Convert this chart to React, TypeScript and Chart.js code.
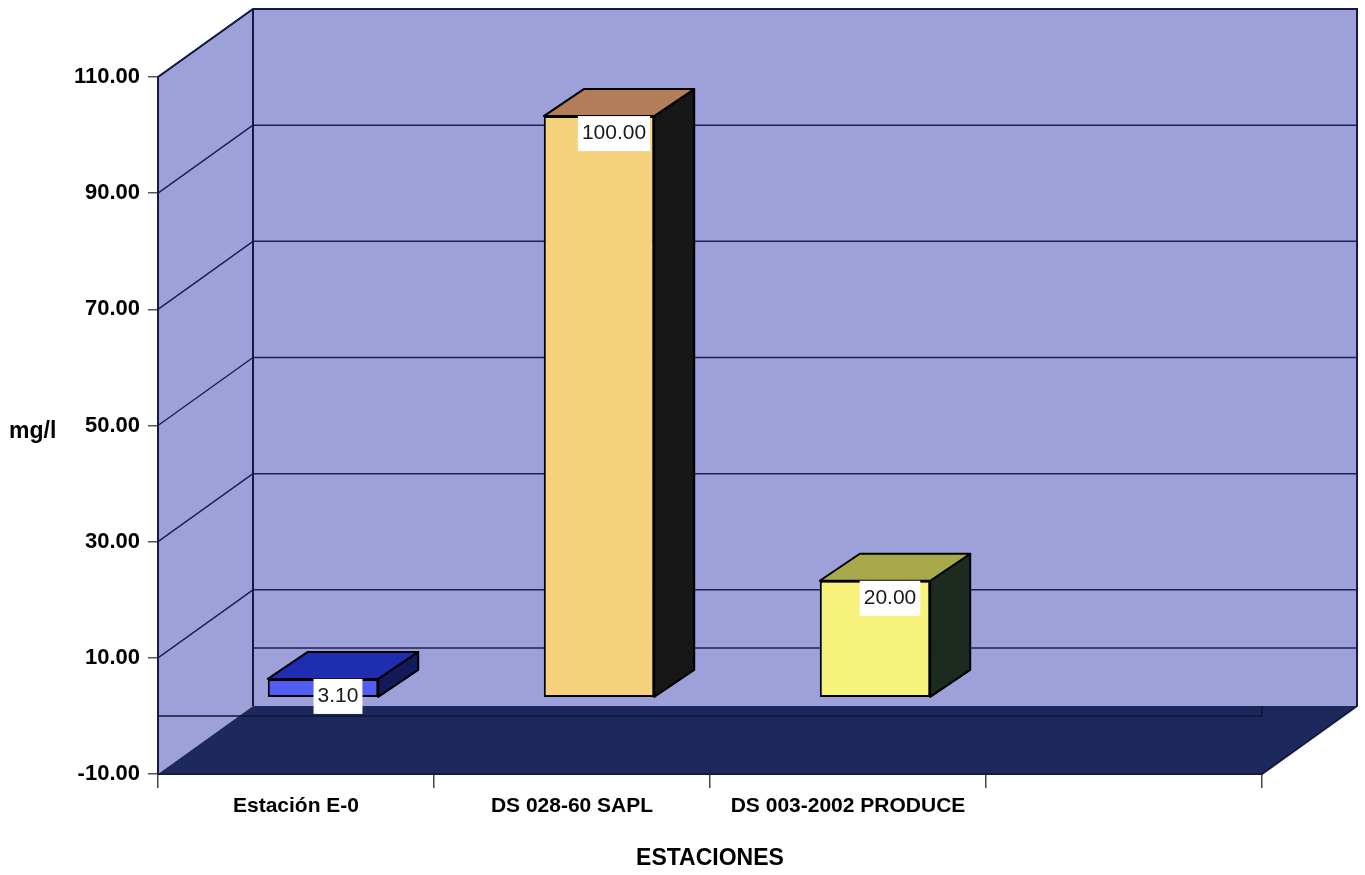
import React, { useEffect, useRef } from "react";
import { Chart, registerables } from "chart.js";

Chart.register(...registerables);

const CATEGORIES = ["Estación E-0", "DS 028-60 SAPL", "DS 003-2002 PRODUCE", ""];
const VALUES: (number | null)[] = [3.1, 100, 20, null];
const Y_TICKS = [-10, 10, 30, 50, 70, 90, 110];
const FRONT_COLORS = ["#4f5ef0", "#f7d27e", "#f6f27c", "#000000"];
const TOP_COLORS = ["#1f2db0", "#b27d58", "#a8a94a", "#000000"];
const SIDE_COLORS = ["#121a5a", "#171717", "#1c2a20", "#000000"];
const Y_TITLE = "mg/l";
const X_TITLE = "ESTACIONES";

const FONT = "'Liberation Sans', Arial, Helvetica, sans-serif";
const WALL = "#9ea0da";
const FLOOR = "#1d295c";
const GRID = "#1c2150";
const EDGE = "#141a40";

// 3D projection offsets (pixels)
const DEPTH_DX = 95;
const DEPTH_DY = -68;
const BAR_OFF_DX = 27;
const BAR_OFF_DY = -19;
const BAR_DX = 40;
const BAR_DY = -27;

const walls3d = {
  id: "walls3d",
  beforeDatasetsDraw(chart: any) {
    const { ctx, chartArea: a, scales } = chart;
    const ys = scales.y;
    const L = a.left, R = a.right, T = a.top, B = a.bottom;
    ctx.save();
    // side wall
    ctx.fillStyle = WALL;
    ctx.beginPath();
    ctx.moveTo(L, T);
    ctx.lineTo(L + DEPTH_DX, T + DEPTH_DY);
    ctx.lineTo(L + DEPTH_DX, B + DEPTH_DY);
    ctx.lineTo(L, B);
    ctx.closePath();
    ctx.fill();
    // back wall
    ctx.fillRect(L + DEPTH_DX, T + DEPTH_DY, R - L, B - T);

    // gridlines
    ctx.strokeStyle = GRID;
    ctx.lineWidth = 1.5;
    ctx.beginPath();
    Y_TICKS.forEach((v) => {
      if (v === Y_TICKS[0]) return;
      const py = ys.getPixelForValue(v);
      ctx.moveTo(L + DEPTH_DX, py + DEPTH_DY);
      ctx.lineTo(R + DEPTH_DX, py + DEPTH_DY);
      ctx.moveTo(L, py);
      ctx.lineTo(L + DEPTH_DX, py + DEPTH_DY);
    });
    const p0 = ys.getPixelForValue(0);
    ctx.moveTo(L + DEPTH_DX, p0 + DEPTH_DY);
    ctx.lineTo(R + DEPTH_DX, p0 + DEPTH_DY);
    ctx.stroke();

    // floor
    ctx.fillStyle = FLOOR;
    ctx.beginPath();
    ctx.moveTo(L, B);
    ctx.lineTo(L + DEPTH_DX, B + DEPTH_DY);
    ctx.lineTo(R + DEPTH_DX, B + DEPTH_DY);
    ctx.lineTo(R, B);
    ctx.closePath();
    ctx.fill();

    // zero plane front edge
    ctx.strokeStyle = "#10163a";
    ctx.lineWidth = 1.5;
    ctx.beginPath();
    ctx.moveTo(L, p0);
    ctx.lineTo(R, p0);
    ctx.lineTo(R, B + DEPTH_DY);
    ctx.stroke();

    // outlines
    ctx.strokeStyle = EDGE;
    ctx.lineWidth = 2;
    ctx.beginPath();
    ctx.moveTo(L, B);
    ctx.lineTo(L, T);
    ctx.lineTo(L + DEPTH_DX, T + DEPTH_DY);
    ctx.lineTo(R + DEPTH_DX, T + DEPTH_DY);
    ctx.lineTo(R + DEPTH_DX, B + DEPTH_DY);
    ctx.lineTo(R, B);
    ctx.lineTo(L, B);
    ctx.moveTo(L + DEPTH_DX, T + DEPTH_DY);
    ctx.lineTo(L + DEPTH_DX, B + DEPTH_DY);
    ctx.stroke();

    // bar top and side faces
    const meta = chart.getDatasetMeta(0);
    meta.data.forEach((el: any, i: number) => {
      if (VALUES[i] == null) return;
      const p = el.getProps(["x", "y", "base", "width"], true);
      const xl = p.x - p.width / 2 + BAR_OFF_DX;
      const xr = p.x + p.width / 2 + BAR_OFF_DX;
      const yt = Math.min(p.y, p.base) + BAR_OFF_DY;
      const yb = Math.max(p.y, p.base) + BAR_OFF_DY;
      ctx.lineWidth = 2;
      ctx.strokeStyle = "#000";
      ctx.lineJoin = "round";
      // side
      ctx.fillStyle = SIDE_COLORS[i];
      ctx.beginPath();
      ctx.moveTo(xr, yt);
      ctx.lineTo(xr + BAR_DX, yt + BAR_DY);
      ctx.lineTo(xr + BAR_DX, yb + BAR_DY);
      ctx.lineTo(xr, yb);
      ctx.closePath();
      ctx.fill();
      ctx.stroke();
      // top
      ctx.fillStyle = TOP_COLORS[i];
      ctx.beginPath();
      ctx.moveTo(xl, yt);
      ctx.lineTo(xl + BAR_DX, yt + BAR_DY);
      ctx.lineTo(xr + BAR_DX, yt + BAR_DY);
      ctx.lineTo(xr, yt);
      ctx.closePath();
      ctx.fill();
      ctx.stroke();
    });
    ctx.restore();

    // shift native front faces onto the bar plane
    ctx.save();
    ctx.translate(BAR_OFF_DX, BAR_OFF_DY);
  },
  afterDatasetsDraw(chart: any) {
    const { ctx } = chart;
    ctx.restore();

    // value labels
    const meta = chart.getDatasetMeta(0);
    ctx.save();
    ctx.font = `21px ${FONT}`;
    meta.data.forEach((el: any, i: number) => {
      const v = VALUES[i];
      if (v == null) return;
      const p = el.getProps(["x", "y", "base", "width"], true);
      const txt = v.toFixed(2);
      const w = ctx.measureText(txt).width + 8;
      const h = 35;
      const cx = p.x + BAR_OFF_DX + 15;
      const top = Math.min(p.y, p.base) + BAR_OFF_DY;
      ctx.fillStyle = "#ffffff";
      ctx.fillRect(cx - w / 2, top, w, h);
      ctx.fillStyle = "#1a1a1a";
      ctx.textAlign = "center";
      ctx.textBaseline = "middle";
      ctx.fillText(txt, cx, top + h / 2);
    });

    // y axis title (horizontal)
    ctx.font = `bold 23px ${FONT}`;
    ctx.fillStyle = "#000";
    ctx.textAlign = "left";
    ctx.textBaseline = "middle";
    ctx.fillText(Y_TITLE, 9, 432);
    ctx.restore();
  },
};

export default function App() {
  const ref = useRef<HTMLCanvasElement | null>(null);

  useEffect(() => {
    document.body.style.margin = "0";
    document.body.style.background = "#ffffff";
    if (!ref.current) return;
    const chart = new Chart(ref.current, {
      type: "bar",
      data: {
        labels: CATEGORIES,
        datasets: [
          {
            data: VALUES as any,
            backgroundColor: FRONT_COLORS,
            borderColor: "#000000",
            borderWidth: 2,
            borderSkipped: false,
            barPercentage: 0.4,
            categoryPercentage: 1,
          },
        ],
      },
      options: {
        animation: false,
        responsive: true,
        maintainAspectRatio: false,
        layout: { padding: { left: 0, top: 77, right: 103, bottom: 0 } },
        plugins: {
          legend: { display: false },
          tooltip: { enabled: false },
        },
        scales: {
          x: {
            offset: true,
            grid: {
              offset: true,
              drawOnChartArea: false,
              drawTicks: true,
              tickLength: 14,
              color: "#444",
              lineWidth: 1.5,
            },
            border: { display: false },
            ticks: {
              color: "#000",
              font: { family: FONT, size: 21, weight: "bold" },
              padding: 6,
              maxRotation: 0,
              autoSkip: false,
            },
            title: {
              display: true,
              text: X_TITLE,
              color: "#000",
              font: { family: FONT, size: 23, weight: "bold" },
              padding: { top: 0, bottom: 3 },
            },
            afterFit: (s: any) => {
              s.height = 101;
            },
          },
          y: {
            min: -10,
            max: 110,
            grid: {
              drawOnChartArea: false,
              drawTicks: true,
              tickLength: 10,
              color: "#555",
              lineWidth: 1.5,
            },
            border: { display: false },
            ticks: {
              color: "#000",
              font: { family: FONT, size: 22, weight: "bold" },
              padding: 8,
              callback: (v: any) => Number(v).toFixed(2),
            },
            afterBuildTicks: (s: any) => {
              s.ticks = Y_TICKS.map((v) => ({ value: v }));
            },
            afterFit: (s: any) => {
              s.width = 158;
            },
          },
        },
      },
      plugins: [walls3d],
    });
    return () => chart.destroy();
  }, []);

  return (
    <div style={{ width: 1365, height: 875, position: "relative" }}>
      <canvas ref={ref} />
    </div>
  );
}
